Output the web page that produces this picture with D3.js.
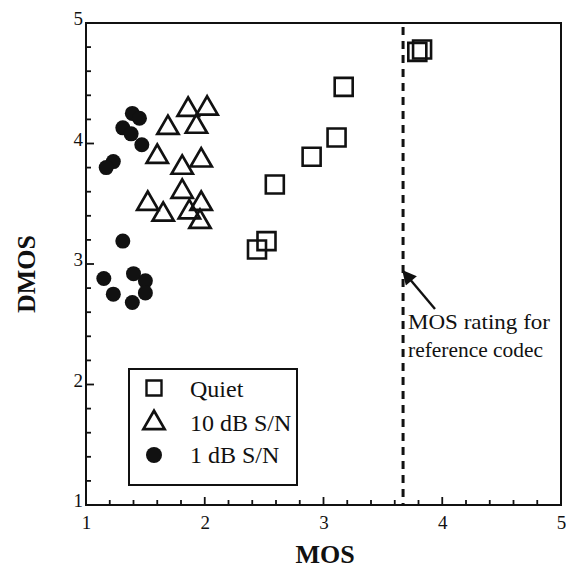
<!DOCTYPE html>
<html><head><meta charset="utf-8">
<script src="https://cdn.jsdelivr.net/npm/d3@7"></script>
<style>body{margin:0;background:#fff}svg{display:block}</style>
</head><body>
<script>
const quietMOS  = [3.83, 3.79, 3.17, 3.11, 2.90, 2.59, 2.52, 2.44];
const quietDMOS = [4.78, 4.76, 4.47, 4.05, 3.89, 3.66, 3.19, 3.12];
const snr10MOS  = [2.02, 1.86, 1.69, 1.93, 1.60, 1.97, 1.81, 1.81, 1.52, 1.65, 1.97, 1.87, 1.96];
const snr10DMOS = [4.29, 4.28, 4.13, 4.14, 3.89, 3.86, 3.80, 3.60, 3.50, 3.41, 3.50, 3.43, 3.35];
const snr1MOS   = [1.39, 1.45, 1.31, 1.38, 1.47, 1.23, 1.17, 1.31, 1.15, 1.23, 1.40, 1.50, 1.50, 1.39];
const snr1DMOS  = [4.25, 4.21, 4.13, 4.08, 3.99, 3.85, 3.80, 3.19, 2.88, 2.75, 2.92, 2.86, 2.76, 2.68];
const xTicks = [1, 2, 3, 4, 5];
const yTicks = [1, 2, 3, 4, 5];
const referenceMOS = 3.67;
const legendLabels = ["Quiet", "10 dB S/N", "1 dB S/N"];
const annotationLines = ["MOS rating for", "reference codec"];

const W = 566, H = 570;
const svg = d3.select("body").append("svg").attr("width", W).attr("height", H);
const L = 86, R = 561, T = 23, B = 505;
const x = d3.scaleLinear().domain([1, 5]).range([L, R]);
const y = d3.scaleLinear().domain([1, 5]).range([B, T]);
const font = "'Liberation Serif', 'Times New Roman', serif";
const ink = "#111";

// frame
svg.append("rect").attr("x", L).attr("y", T).attr("width", R - L).attr("height", B - T)
  .attr("fill", "none").attr("stroke", ink).attr("stroke-width", 2);

// minor/major ticks inward
const minor = d3.range(1, 5.001, 0.2);
minor.forEach(v => {
  const major = Math.abs(v - Math.round(v)) < 1e-6;
  const len = major ? 8 : 5;
  svg.append("line").attr("x1", x(v)).attr("x2", x(v)).attr("y1", B).attr("y2", B - len)
    .attr("stroke", ink).attr("stroke-width", 1.8);
  svg.append("line").attr("x1", L).attr("x2", L + len).attr("y1", y(v)).attr("y2", y(v))
    .attr("stroke", ink).attr("stroke-width", 1.8);
});

// tick labels via axes (no lines)
const xAxis = svg.append("g").attr("transform", `translate(0,${B})`)
  .call(d3.axisBottom(x).tickValues(xTicks).tickSize(0).tickPadding(11).tickFormat(d3.format("d")));
xAxis.select(".domain").remove();
xAxis.selectAll("text").attr("font-family", font).attr("font-size", 19).attr("fill", ink);
const yAxis = svg.append("g").attr("transform", `translate(${L},0)`)
  .call(d3.axisLeft(y).tickValues(yTicks).tickSize(0).tickPadding(3).tickFormat(d3.format("d")));
yAxis.select(".domain").remove();
yAxis.selectAll("text").attr("font-family", font).attr("font-size", 19).attr("fill", ink)
  .attr("dy", "0.1em");

// axis titles
svg.append("text").attr("x", 325).attr("y", 563).attr("text-anchor", "middle")
  .attr("font-family", font).attr("font-weight", "bold").attr("font-size", 26).attr("fill", ink).text("MOS");
svg.append("text").attr("transform", `translate(35,274) rotate(-90)`).attr("text-anchor", "middle")
  .attr("font-family", font).attr("font-weight", "bold").attr("font-size", 26).attr("fill", ink).text("DMOS");

// reference dashed line
svg.append("line").attr("x1", x(referenceMOS)).attr("x2", x(referenceMOS)).attr("y1", T + 4).attr("y2", B)
  .attr("stroke", ink).attr("stroke-width", 3).attr("stroke-dasharray", "8,6");

// points
const sq = d3.symbol().type(d3.symbolSquare).size(18 * 18)();
const tri = d3.symbol().type(d3.symbolTriangle).size(195)();
svg.append("g").selectAll("path").data(quietMOS.map((m, i) => [m, quietDMOS[i]])).join("path")
  .attr("d", sq).attr("transform", d => `translate(${x(d[0])},${y(d[1])})`)
  .attr("fill", "none").attr("stroke", ink).attr("stroke-width", 2.6);
svg.append("g").selectAll("path").data(snr10MOS.map((m, i) => [m, snr10DMOS[i]])).join("path")
  .attr("d", tri).attr("transform", d => `translate(${x(d[0])},${y(d[1])})`)
  .attr("fill", "none").attr("stroke", ink).attr("stroke-width", 2.7).attr("stroke-linejoin", "miter");
svg.append("g").selectAll("circle").data(snr1MOS.map((m, i) => [m, snr1DMOS[i]])).join("circle")
  .attr("cx", d => x(d[0])).attr("cy", d => y(d[1])).attr("r", 7.5).attr("fill", ink);

// legend
const lg = svg.append("g");
lg.append("rect").attr("x", 129).attr("y", 369).attr("width", 168).attr("height", 116)
  .attr("fill", "#fff").attr("stroke", ink).attr("stroke-width", 2);
const legendSyms = [
  g => g.append("path").attr("d", d3.symbol().type(d3.symbolSquare).size(15 * 15)()).attr("fill", "none").attr("stroke", ink).attr("stroke-width", 2.4),
  g => g.append("path").attr("d", tri).attr("fill", "none").attr("stroke", ink).attr("stroke-width", 2.7),
  g => g.append("circle").attr("r", 8).attr("fill", ink)
];
const rowY = [388, 423, 455];
const rowBase = [397, 431, 463];
legendLabels.forEach((t, i) => {
  const g = lg.append("g").attr("transform", `translate(154,${rowY[i]})`);
  legendSyms[i](g);
  lg.append("text").attr("x", 190).attr("y", rowBase[i]).attr("font-family", font).attr("font-size", 24)
    .attr("fill", ink).text(t);
});

// annotation
const annBase = [329, 357];
const annWidth = [142, 135];
annotationLines.forEach((t, i) => {
  svg.append("text").attr("x", 408).attr("y", annBase[i]).attr("font-family", font).attr("font-size", 21)
    .attr("textLength", annWidth[i]).attr("lengthAdjust", "spacingAndGlyphs")
    .attr("fill", ink).text(t);
});
svg.append("defs").append("marker").attr("id", "ah").attr("viewBox", "0 0 10 10")
  .attr("refX", 9).attr("refY", 5).attr("markerWidth", 7.5).attr("markerHeight", 6).attr("orient", "auto")
  .append("path").attr("d", "M0,0 L10,5 L0,10 Z").attr("fill", ink);
svg.append("line").attr("x1", 435).attr("y1", 309).attr("x2", 403).attr("y2", 271)
  .attr("stroke", ink).attr("stroke-width", 2.4).attr("marker-end", "url(#ah)");
</script>
</body></html>
